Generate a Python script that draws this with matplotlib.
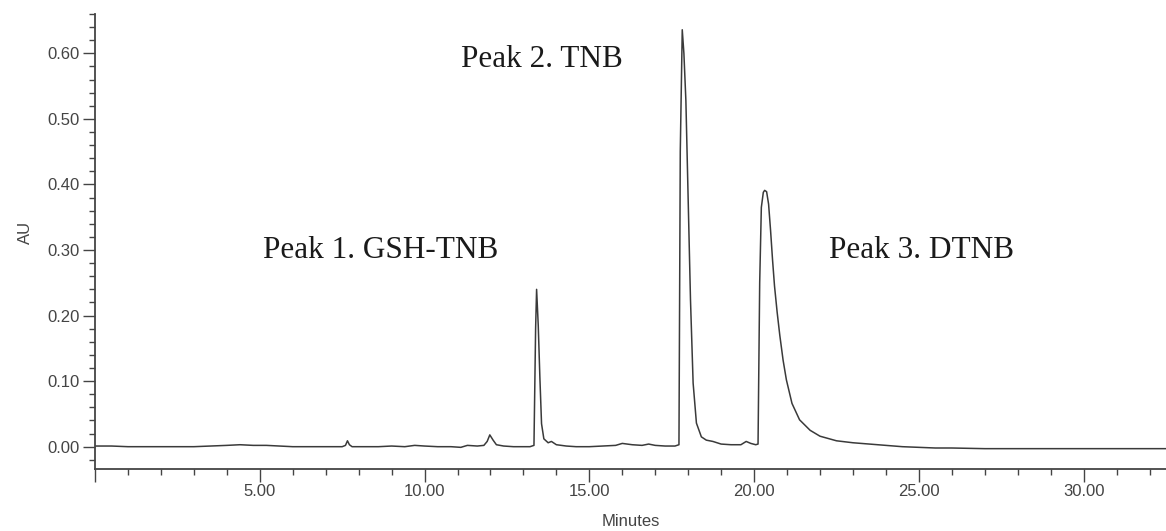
import matplotlib
matplotlib.use("Agg")
import matplotlib.pyplot as plt
from matplotlib.ticker import MultipleLocator, FuncFormatter, FormatStrFormatter

# Data (retention time in minutes, absorbance in AU)
time_min = [0.0, 0.5, 1.0, 1.5, 2.0, 2.5, 3.0, 3.5, 4.0, 4.4, 4.8, 5.2, 5.6, 6.0,
            6.5, 7.0, 7.5, 7.6, 7.66, 7.72, 7.8, 8.2, 8.6, 9.0, 9.4, 9.7, 10.0,
            10.4, 10.8, 11.1, 11.3, 11.6, 11.8, 11.9, 11.98, 12.08, 12.18, 12.4,
            12.7, 13.0, 13.2, 13.32, 13.37, 13.40, 13.45, 13.50, 13.55, 13.62,
            13.75, 13.85, 14.0, 14.3, 14.6, 15.0, 15.4, 15.8, 16.0, 16.3, 16.6,
            16.8, 17.0, 17.3, 17.6, 17.72, 17.76, 17.82, 17.87, 17.93, 18.0,
            18.07, 18.15, 18.25, 18.4, 18.55, 18.75, 19.0, 19.3, 19.6, 19.76,
            19.9, 20.05, 20.12, 20.17, 20.22, 20.28, 20.32, 20.38, 20.44, 20.50,
            20.56, 20.62, 20.70, 20.78, 20.88, 20.98, 21.15, 21.38, 21.7, 22.0,
            22.5, 23.0, 23.5, 24.0, 24.5, 25.0, 25.5, 26.0, 27.0, 28.0, 29.0,
            30.0, 31.0, 32.0, 32.5]
absorbance = [0.001, 0.001, 0.000, 0.000, 0.000, 0.000, 0.000, 0.001, 0.002,
              0.003, 0.002, 0.002, 0.001, 0.000, 0.000, 0.000, 0.000, 0.002,
              0.009, 0.003, 0.000, 0.000, 0.000, 0.001, 0.000, 0.002, 0.001,
              0.000, 0.000, -0.001, 0.002, 0.001, 0.002, 0.008, 0.018, 0.010,
              0.003, 0.001, 0.000, 0.000, 0.000, 0.002, 0.180, 0.240, 0.185,
              0.105, 0.035, 0.012, 0.006, 0.008, 0.003, 0.001, 0.000, 0.000,
              0.001, 0.002, 0.005, 0.003, 0.002, 0.004, 0.002, 0.001, 0.001,
              0.003, 0.450, 0.636, 0.600, 0.528, 0.376, 0.224, 0.097, 0.036,
              0.015, 0.010, 0.008, 0.004, 0.003, 0.003, 0.008, 0.005, 0.003,
              0.004, 0.250, 0.365, 0.388, 0.391, 0.389, 0.370, 0.330, 0.285,
              0.245, 0.205, 0.170, 0.132, 0.102, 0.066, 0.041, 0.025, 0.016,
              0.009, 0.006, 0.004, 0.002, 0.000, -0.001, -0.002, -0.002,
              -0.003, -0.003, -0.003, -0.003, -0.003, -0.003, -0.003]

peak_labels = ["Peak 1. GSH-TNB", "Peak 2. TNB", "Peak 3. DTNB"]

fig = plt.figure(figsize=(11.66, 5.31), dpi=100)
ax = fig.add_axes([0.0815, 0.1168, 0.9185, 0.8568])

ax.plot(time_min, absorbance, color="#3a3a3a", linewidth=1.1)

ax.set_xlim(0, 32.5)
ax.set_ylim(-0.034, 0.66)

ax.xaxis.set_major_locator(MultipleLocator(5))
ax.xaxis.set_minor_locator(MultipleLocator(1))
ax.yaxis.set_major_locator(MultipleLocator(0.1))
ax.yaxis.set_minor_locator(MultipleLocator(0.02))
ax.yaxis.set_major_formatter(FormatStrFormatter("%.2f"))


def xfmt(v, pos):
    return "" if abs(v) < 1e-9 else "%.2f" % v


ax.xaxis.set_major_formatter(FuncFormatter(xfmt))

for s in ["top", "right"]:
    ax.spines[s].set_visible(False)
for s in ["left", "bottom"]:
    ax.spines[s].set_color("#444444")
    ax.spines[s].set_linewidth(1.3)

ax.tick_params(axis="both", which="major", length=9, width=1.0, color="#444444",
               labelcolor="#444444", labelsize=12, pad=2)
ax.tick_params(axis="both", which="minor", length=4, width=1.0, color="#444444")
for lab in ax.get_xticklabels() + ax.get_yticklabels():
    lab.set_fontfamily("Liberation Sans")

ax.set_xlabel("Minutes", fontfamily="Liberation Sans", fontsize=12,
              color="#444444")
ax.xaxis.set_label_coords(0.5, -0.1)
ax.set_ylabel("AU", fontfamily="Liberation Sans", fontsize=12, color="#444444")
ax.yaxis.set_label_coords(-0.058, 0.52)

text_pos = [(5.10, 0.288), (11.12, 0.579), (22.26, 0.288)]
for lbl, (tx, ty) in zip(peak_labels, text_pos):
    ax.text(tx, ty, lbl, fontfamily="Liberation Serif", fontsize=22.5,
            color="#1a1a1a", va="baseline", ha="left")

fig.savefig("out.png", dpi=100)
